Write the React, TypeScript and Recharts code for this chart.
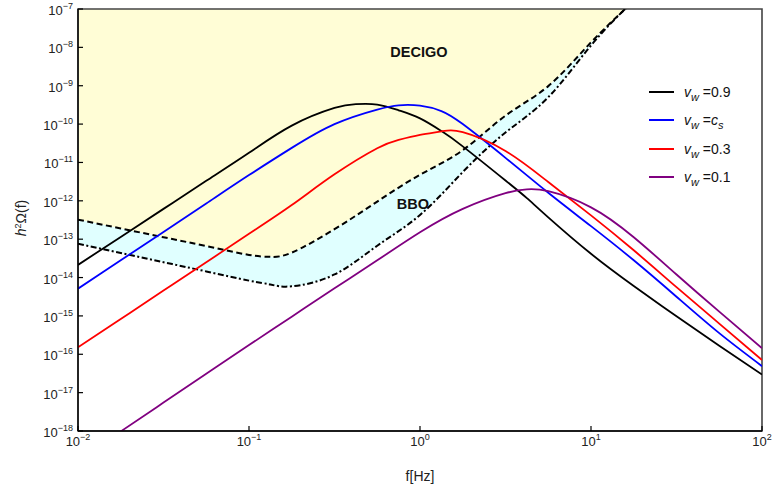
import React from "react"
import {
  Area,
  ComposedChart,
  Line,
  ReferenceArea,
  ReferenceDot,
  XAxis,
  YAxis,
} from "recharts"

/******************************************************************************
                              Data (log10 values)
******************************************************************************/

// log10 of frequency [Hz]
const LOG_F = [
  -2, -1.75, -1.5, -1.25, -1, -0.875, -0.75, -0.5, -0.375, -0.25, -0.125, 0,
  0.125, 0.25, 0.5, 0.625, 0.75, 1, 1.2, 1.25, 1.5, 1.75, 2,
]

// log10 h^2 Omega for each wall velocity
const VW_09 = [
  -13.67, -12.94, -12.21, -11.48, -10.75, null, -10.04, -9.58, -9.48, -9.49,
  -9.64, -9.85, -10.18, -10.58, -11.47, -11.93, -12.43, -13.38, null, -14.22,
  -15.01, -15.78, -16.53,
]
const VW_CS = [
  -14.29, -13.55, -12.81, -12.07, -11.33, null, -10.62, -10.0, null, -9.62,
  -9.51, -9.52, -9.66, -10.0, -10.88, null, -11.79, -12.66, null, -13.55,
  -14.5, -15.45, -16.31,
]
const VW_03 = [
  -15.82, -15.08, -14.34, -13.6, -12.86, null, -12.11, -11.31, null, -10.63,
  -10.41, -10.28, -10.19, -10.21, -10.7, null, -11.51, -12.38, null, -13.29,
  -14.25, -15.2, -16.15,
]
const VW_01 = [
  -18.77, -18.01, -17.26, -16.51, -15.76, null, -15.02, -14.28, null, -13.55,
  null, -12.82, null, -12.21, -11.8, -11.7, -11.75, -12.17, null, -12.95,
  -13.92, -14.89, -15.84,
]

// detector sensitivity curves
const DECIGO = [
  -12.49, -12.72, -12.95, -13.18, -13.41, -13.46, -13.35, -12.74, null, -12.02,
  null, -11.32, null, -10.68, -9.78, null, -9.01, -7.87, -7.0, -6.78, -5.7,
  null, null,
]
const BBO = [
  -13.12, -13.36, -13.6, -13.84, -14.08, -14.18, -14.23, -13.92, null, -13.17,
  null, -12.37, null, -11.25, -10.22, null, -9.3, -7.95, -7.0, -6.8, -5.7,
  null, null,
]

const X_TICKS = [-2, -1, 0, 1, 2]
const Y_TICKS = [-18, -17, -16, -15, -14, -13, -12, -11, -10, -9, -8, -7]

const SERIES = [
  { key: "vw09", label: "0.9", color: "#000000" },
  { key: "vwcs", label: "cs", color: "#0000ff" },
  { key: "vw03", label: "0.3", color: "#ff0000" },
  { key: "vw01", label: "0.1", color: "#800080" },
]

/******************************************************************************
                              Constants
******************************************************************************/

const FONT = "'Liberation Sans', Arial, sans-serif"
const Y_MIN = 1e-18
const Y_MAX = 1e-7

const pow10 = (v: number | null) => (v == null ? null : Math.pow(10, v))

const chartData = LOG_F.map((lf, i) => ({
  f: Math.pow(10, lf),
  vw09: pow10(VW_09[i]),
  vwcs: pow10(VW_CS[i]),
  vw03: pow10(VW_03[i]),
  vw01: pow10(VW_01[i]),
  decigo: pow10(DECIGO[i]),
  bbo: pow10(BBO[i]),
}))

/******************************************************************************
                              Components
******************************************************************************/

function expText(value: number) {
  const e = Math.round(Math.log10(value))
  return e < 0 ? `\u2212${-e}` : `${e}`
}

function XTick(props: any) {
  const { x, y, payload } = props
  return (
    <g>
      <line x1={x} x2={x} y1={y} y2={y - 5} stroke="#000" strokeWidth={1.2} />
      <text
        x={x}
        y={y + 15}
        textAnchor="middle"
        fontFamily={FONT}
        fontSize={13}
        fill="#222"
      >
        <tspan>10</tspan>
        <tspan dy={-6} fontSize={9}>
          {expText(payload.value)}
        </tspan>
      </text>
    </g>
  )
}

function YTick(props: any) {
  const { x, y, payload } = props
  return (
    <g>
      <line x1={x} x2={x + 5} y1={y} y2={y} stroke="#000" strokeWidth={1.2} />
      <text
        x={x - 5}
        y={y + 6}
        textAnchor="end"
        fontFamily={FONT}
        fontSize={13}
        fill="#222"
      >
        <tspan>10</tspan>
        <tspan dy={-6} fontSize={9}>
          {expText(payload.value)}
        </tspan>
      </text>
    </g>
  )
}

function LegendBox() {
  return (
    <div
      style={{
        position: "absolute",
        left: 649,
        top: 78,
        fontFamily: FONT,
        fontSize: 14,
        color: "#111",
      }}
    >
      {SERIES.map((s) => (
        <div
          key={s.key}
          style={{ height: 28.3, display: "flex", alignItems: "center" }}
        >
          <span
            style={{
              display: "inline-block",
              width: 25,
              height: 2,
              background: s.color,
            }}
          />
          <span style={{ marginLeft: 10, whiteSpace: "nowrap" }}>
            <i>v</i>
            <i style={{ fontSize: 11, position: "relative", top: 4 }}>w</i>
            {" ="}
            {s.label === "cs" ? (
              <>
                <i>c</i>
                <i style={{ fontSize: 11, position: "relative", top: 4 }}>
                  s
                </i>
              </>
            ) : (
              s.label
            )}
          </span>
        </div>
      ))}
    </div>
  )
}

export default function App() {
  return (
    <div style={{ position: "absolute", left: 0, top: 0, width: 774, height: 488 }}>
      <ComposedChart
        width={774}
        height={488}
        data={chartData}
        margin={{ top: 9, right: 12, left: 0, bottom: 0 }}
      >
        <XAxis
          dataKey="f"
          type="number"
          scale="log"
          domain={[0.01, 100]}
          allowDataOverflow
          ticks={X_TICKS.map((t) => Math.pow(10, t))}
          tick={<XTick />}
          tickLine={false}
          tickSize={0}
          tickMargin={0}
          height={57}
          axisLine={{ stroke: "#000", strokeWidth: 1.3 }}
          interval={0}
          label={{
            value: "f[Hz]",
            position: "insideBottom",
            offset: 7,
            fontFamily: FONT,
            fontSize: 14,
            fill: "#222",
          }}
        />
        <YAxis
          type="number"
          scale="log"
          domain={[Y_MIN, Y_MAX]}
          allowDataOverflow
          ticks={Y_TICKS.map((t) => Math.pow(10, t))}
          tick={<YTick />}
          tickLine={false}
          tickSize={0}
          tickMargin={0}
          width={78}
          interval={0}
          axisLine={{ stroke: "#000", strokeWidth: 1.3 }}
        />

        <Area
          dataKey={(d: any) => (d.decigo == null ? null : [d.decigo, Y_MAX])}
          type="natural"
          stroke="none"
          fill="#fffdd6"
          fillOpacity={1}
          connectNulls
          isAnimationActive={false}
        />
        <Area
          dataKey={(d: any) =>
            d.decigo == null || d.bbo == null ? null : [d.bbo, d.decigo]
          }
          type="natural"
          stroke="none"
          fill="#e0ffff"
          fillOpacity={1}
          connectNulls
          isAnimationActive={false}
        />

        <ReferenceArea
          x1={0.01}
          x2={100}
          y1={Y_MIN}
          y2={Y_MAX}
          fill="none"
          stroke="#444"
          strokeWidth={1.6}
        />

        <Line
          dataKey="decigo"
          type="natural"
          stroke="#000"
          strokeWidth={2}
          strokeDasharray="6 3.5"
          dot={false}
          connectNulls
          isAnimationActive={false}
        />
        <Line
          dataKey="bbo"
          type="natural"
          stroke="#000"
          strokeWidth={2}
          strokeDasharray="6 2.5 2 2.5"
          dot={false}
          connectNulls
          isAnimationActive={false}
        />

        {SERIES.map((s) => (
          <Line
            key={s.key}
            dataKey={s.key}
            type="natural"
            stroke={s.color}
            strokeWidth={1.8}
            dot={false}
            connectNulls
            isAnimationActive={false}
          />
        ))}

        <ReferenceDot
          x={Math.pow(10, -0.006)}
          y={Math.pow(10, -8.107)}
          r={1}
          fill="none"
          stroke="none"
          label={{
            value: "DECIGO",
            position: "center",
            fontFamily: FONT,
            fontSize: 14.5,
            fontWeight: "bold",
            fill: "#111",
          }}
        />
        <ReferenceDot
          x={Math.pow(10, -0.041)}
          y={Math.pow(10, -12.08)}
          r={1}
          fill="none"
          stroke="none"
          label={{
            value: "BBO",
            position: "center",
            fontFamily: FONT,
            fontSize: 14.5,
            fontWeight: "bold",
            fill: "#111",
          }}
        />
      </ComposedChart>

      <LegendBox />

      <div
        style={{
          position: "absolute",
          left: 21,
          top: 218,
          transform: "translate(-50%, -50%) rotate(-90deg)",
          fontFamily: FONT,
          fontSize: 14,
          color: "#222",
          whiteSpace: "nowrap",
        }}
      >
        <i>h</i>
        <sup style={{ fontSize: 9 }}>2</sup>Ω(f)
      </div>
    </div>
  )
}
